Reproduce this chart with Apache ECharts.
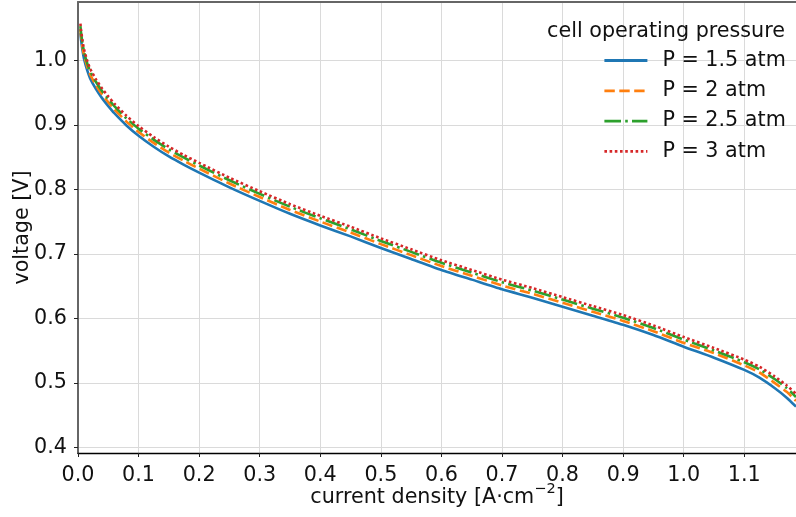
<!DOCTYPE html>
<html>
<head>
<meta charset="utf-8">
<script src="https://cdn.jsdelivr.net/npm/echarts@6/dist/echarts.min.js"></script>
<style>
html,body{margin:0;padding:0;background:#fff;}
#chart{width:796px;height:517px;}
</style>
</head>
<body>
<div id="chart"></div>
<script>
// current density [A/cm^2]
const currentDensity = [0.004,0.005,0.0075,0.01,0.015,0.02,0.03,0.04,0.05,0.06,0.08,0.1,0.125,0.15,0.175,0.2,0.25,0.3,0.35,0.4,0.45,0.5,0.55,0.6,0.65,0.7,0.75,0.8,0.85,0.9,0.95,1.0,1.05,1.1,1.125,1.15,1.17,1.1854];
// voltage [V] per operating pressure
const vP15 = [1.042,1.032,1.015,1.002,0.985,0.972,0.955,0.941,0.929,0.918,0.899,0.883,0.866,0.851,0.838,0.826,0.803,0.782,0.762,0.744,0.727,0.709,0.692,0.675,0.660,0.645,0.632,0.618,0.604,0.590,0.574,0.556,0.539,0.520,0.508,0.492,0.477,0.463];
const vP20 = [1.048,1.038,1.021,1.008,0.991,0.978,0.961,0.947,0.935,0.924,0.905,0.889,0.872,0.857,0.844,0.832,0.809,0.788,0.768,0.750,0.733,0.715,0.698,0.681,0.666,0.651,0.638,0.624,0.610,0.596,0.580,0.562,0.546,0.527,0.516,0.500,0.486,0.472];
const vP25 = [1.053,1.043,1.026,1.013,0.996,0.983,0.966,0.952,0.940,0.929,0.910,0.894,0.877,0.862,0.849,0.837,0.814,0.793,0.773,0.755,0.738,0.720,0.703,0.686,0.671,0.656,0.643,0.629,0.615,0.601,0.585,0.567,0.550,0.532,0.521,0.506,0.492,0.478];
const vP30 = [1.057,1.047,1.030,1.017,1.000,0.987,0.970,0.956,0.944,0.933,0.914,0.898,0.881,0.866,0.853,0.841,0.818,0.797,0.777,0.759,0.742,0.724,0.707,0.690,0.675,0.660,0.647,0.633,0.619,0.605,0.589,0.571,0.554,0.536,0.525,0.510,0.496,0.483];
const seriesNames = ['P = 1.5 atm','P = 2 atm','P = 2.5 atm','P = 3 atm'];
const xTickMax = 1.1;
const yTickMin = 0.4, yTickMax = 1.0;
const xViewMax = 1.1854;
const yViewMin = 0.3912, yViewMax = 1.0904;

const FONT = 'DejaVu Sans';
const FS = 20.7;
const pair = (arr) => currentDensity.map((x, i) => [x, arr[i]]);

const L = 78, T = 2, R = 796, B = 453;
const pxPerX = 605.7;
const pxPerY = 645;
const gridX = {left: L, top: T, width: xTickMax * pxPerX, height: B - T};
const yTopPx = B - (yTickMax - yViewMin) * pxPerY;
const yBotPx = B - (yTickMin - yViewMin) * pxPerY;
const gridY = {left: L, top: yTopPx, width: R - L, height: yBotPx - yTopPx};
const gridD = {left: L, top: T, width: R - L, height: B - T};

const colors = ['#1f77b4','#ff7f0e','#2ca02c','#d62728'];
const dashes = ['solid', [10.4, 4.5], [16.6, 4.2, 2.6, 4.2], [2.6, 2.6]];
const vals = [vP15, vP20, vP25, vP30];

const chart = echarts.init(document.getElementById('chart'), null, {renderer: 'canvas'});
chart.setOption({
  animation: false,
  backgroundColor: '#fff',
  textStyle: {fontFamily: FONT},
  title: {
    text: 'cell operating pressure', right: 11, top: 21, padding: 0,
    textStyle: {fontFamily: FONT, fontSize: FS, fontWeight: 'normal', color: '#111'}
  },
  legend: {
    orient: 'vertical', left: 603, top: 50, padding: 0,
    itemWidth: 43, itemHeight: 14, itemGap: 9.3,
    data: seriesNames,
    itemStyle: {opacity: 0},
    lineStyle: {width: 2.8},
    textStyle: {fontFamily: FONT, fontSize: FS, color: '#111', lineHeight: 20, padding: [0, 0, 0, 10]}
  },
  grid: [
    Object.assign({containLabel: false}, gridX),
    Object.assign({containLabel: false}, gridY),
    Object.assign({containLabel: false}, gridD)
  ],
  xAxis: [
    {
      type: 'value', gridIndex: 0, min: 0, max: xTickMax, interval: 0.1,
      axisLine: {show: false},
      axisTick: {show: true, length: 4, lineStyle: {color: '#222', width: 1}},
      axisLabel: {show: true, margin: 12, fontSize: FS, fontFamily: FONT, color: '#111',
        showMaxLabel: true, showMinLabel: true, formatter: (v) => v.toFixed(1)},
      splitLine: {show: true, lineStyle: {color: '#dadada', width: 1}}
    },
    {type: 'value', gridIndex: 1, min: 0, max: 1, show: false},
    {
      type: 'value', gridIndex: 2, min: 0, max: xViewMax, position: 'bottom',
      axisLine: {show: true, onZero: false, lineStyle: {color: '#000', width: 1.3}},
      axisTick: {show: false}, axisLabel: {show: false}, splitLine: {show: false},
      name: '{n|current density [A·cm}{s|−2}{n|]}',
      nameLocation: 'middle', nameGap: 29,
      nameTextStyle: {
        rich: {
          n: {fontFamily: FONT, fontSize: FS, color: '#111', lineHeight: 26, verticalAlign: 'bottom'},
          s: {fontFamily: FONT, fontSize: 14.5, color: '#111', lineHeight: 26, verticalAlign: 'top'}
        }
      }
    },
    {
      type: 'value', gridIndex: 2, min: 0, max: xViewMax, position: 'top',
      axisLine: {show: true, onZero: false, lineStyle: {color: '#666', width: 2}},
      axisTick: {show: false}, axisLabel: {show: false}, splitLine: {show: false}
    }
  ],
  yAxis: [
    {type: 'value', gridIndex: 0, min: 0, max: 1, show: false},
    {
      type: 'value', gridIndex: 1, min: yTickMin, max: yTickMax, interval: 0.1,
      axisLine: {show: false},
      axisTick: {show: true, length: 4, lineStyle: {color: '#222', width: 1}},
      axisLabel: {show: true, margin: 11, fontSize: FS, fontFamily: FONT, color: '#111',
        showMaxLabel: true, showMinLabel: true, formatter: (v) => v.toFixed(1)},
      splitLine: {show: true, lineStyle: {color: '#dadada', width: 1}}
    },
    {
      type: 'value', gridIndex: 2, min: yViewMin, max: yViewMax, position: 'left',
      axisLine: {show: true, onZero: false, lineStyle: {color: '#666', width: 2}},
      axisTick: {show: false}, axisLabel: {show: false}, splitLine: {show: false},
      name: 'voltage [V]', nameLocation: 'middle', nameGap: 45,
      nameTextStyle: {fontFamily: FONT, fontSize: FS, color: '#111'}
    }
  ],
  series: seriesNames.map((name, i) => ({
    name: name, type: 'line', xAxisIndex: 2, yAxisIndex: 2,
    data: pair(vals[i]), symbol: 'none', showSymbol: false,
    smooth: 0.2, clip: true,
    color: colors[i],
    lineStyle: {color: colors[i], width: 2.6, type: dashes[i], cap: 'butt', join: 'round'},
    z: 3 + i
  }))
});
</script>
</body>
</html>
